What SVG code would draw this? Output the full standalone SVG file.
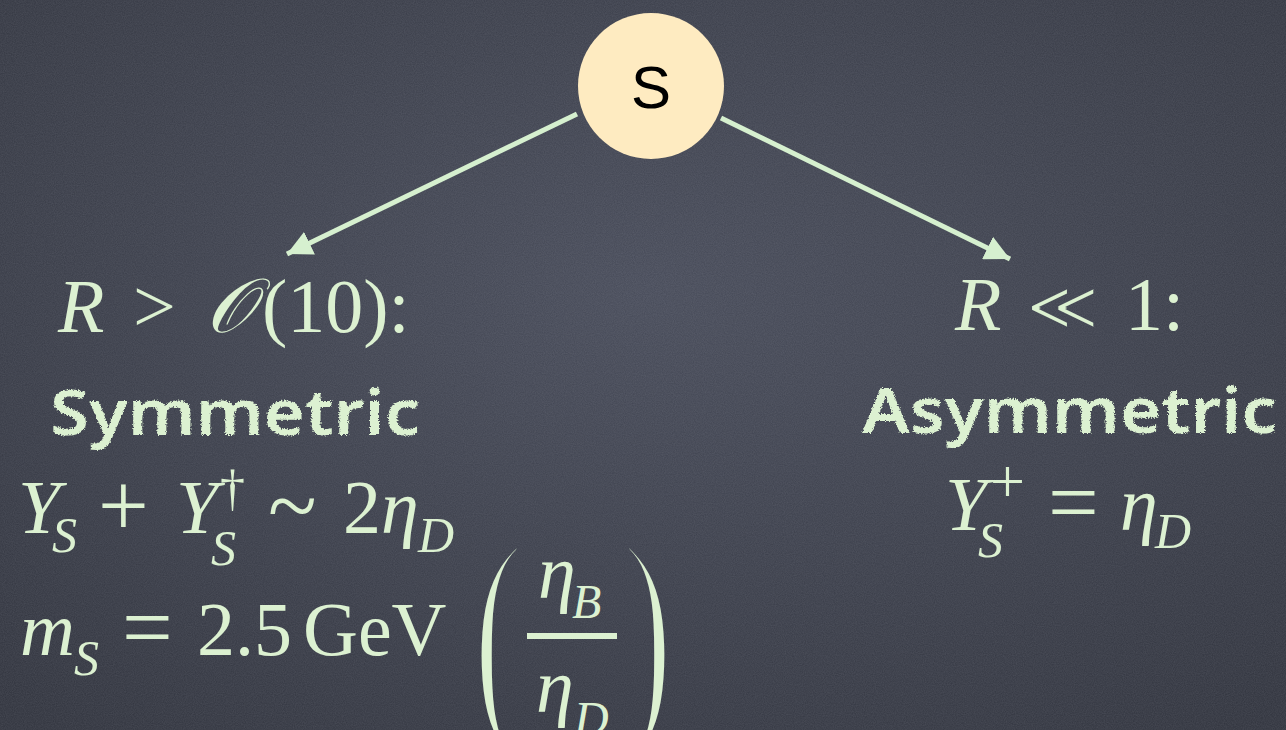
<svg xmlns="http://www.w3.org/2000/svg" width="1286" height="730" viewBox="0 0 1286 730">
<style>
.m{font-family:"Liberation Serif","DejaVu Serif",serif;font-size:76px;fill:#dcf1d1}
.i{font-style:italic}
.s{font-size:50px}
.op{font-size:90px}
.rel{font-family:"DejaVu Sans","DejaVu Serif",serif;font-size:70px;filter:url(#thin1)}
.paren{font-size:250px;filter:url(#thin3)}
.chalk{font-family:"Noto Sans","Lato",sans-serif;font-size:64px;font-weight:600;fill:#dcf1d1;filter:url(#rough)}
.conn{stroke:#d6f0cf;stroke-width:5;fill:none;marker-end:url(#ah)}
</style>
<defs>
<radialGradient id="bg" cx="0.5" cy="0.4" r="0.75">
<stop offset="0" stop-color="#474b59"/>
<stop offset="1" stop-color="#30333d"/>
</radialGradient>
<filter id="noise" x="0" y="0" width="100%" height="100%">
<feTurbulence type="fractalNoise" baseFrequency="0.9" numOctaves="2" seed="3"/>
<feColorMatrix type="matrix" values="0 0 0 0 0.8  0 0 0 0 0.82  0 0 0 0 0.9  0 0 0 0.12 0"/>
</filter>
<filter id="rough" x="-5%" y="-20%" width="110%" height="140%">
<feTurbulence type="fractalNoise" baseFrequency="0.7" numOctaves="2" seed="7" result="n"/>
<feDisplacementMap in="SourceGraphic" in2="n" scale="4" xChannelSelector="R" yChannelSelector="G"/>
</filter>
<filter id="thin3" x="-20%" y="-10%" width="140%" height="120%">
<feMorphology operator="erode" radius="3"/>
</filter>
<filter id="thin1" x="-10%" y="-10%" width="120%" height="120%">
<feMorphology operator="erode" radius="1.3"/>
</filter>
<marker id="ah" viewBox="0 0 25 25" refX="25" refY="12.5" markerWidth="25" markerHeight="25" markerUnits="userSpaceOnUse" orient="auto">
<path d="M0,0 L25,12.5 L0,25 z" fill="#d6f0cf"/>
</marker>
</defs>
<rect width="1286" height="730" fill="url(#bg)"/>
<rect width="1286" height="730" filter="url(#noise)"/>

<g id="connectors">
<line class="conn" x1="577" y1="114" x2="287" y2="254"/>
<line class="conn" x1="721" y1="118" x2="1010" y2="259"/>
</g>

<g id="node-S">
<circle cx="651" cy="86" r="73" fill="#feebc1"/>
<text x="651" y="108" text-anchor="middle" font-family="'Liberation Sans',Arial,sans-serif" font-size="60" fill="#000">S</text>
</g>

<g id="node-symmetric">
<text class="m i" x="58" y="332">R</text>
<text class="m" x="133" y="332">&gt;</text>
<text class="m i" x="206" y="332">𝒪</text>
<text class="m" x="262" y="332">(10):</text>
<text class="chalk" x="50" y="435" textLength="370" lengthAdjust="spacingAndGlyphs">Symmetric</text>
<text class="m i" x="18" y="533">Y</text>
<text class="m i s" x="52" y="552">S</text>
<text class="m op" x="98" y="536">+</text>
<text class="m i" x="176" y="533">Y</text>
<text class="m s" x="220" y="505">†</text>
<text class="m i s" x="211" y="565">S</text>
<text class="m op" x="268" y="536">~</text>
<text class="m" x="343" y="533">2</text>
<text class="m i" x="381" y="533">η</text>
<text class="m i s" x="418" y="552">D</text>
<text class="m i" x="20" y="655">m</text>
<text class="m i s" x="74" y="675">S</text>
<text class="m op" x="122" y="658">=</text>
<text class="m" x="197" y="655">2.5</text>
<text class="m" x="303" y="655">GeV</text>
<text class="m paren" transform="translate(473,716) scale(0.6,1)">(</text>
<text class="m i" x="538" y="598">η</text>
<text class="m i" x="572" y="618" style="font-size:48px">B</text>
<rect x="527" y="633" width="90" height="6" fill="#dcf1d1"/>
<text class="m i" x="536" y="712">η</text>
<text class="m i" x="574" y="735" style="font-size:48px">D</text>
<text class="m paren" transform="translate(623,716) scale(0.6,1)">)</text>
</g>

<g id="node-asymmetric">
<text class="m i" x="955" y="330">R</text>
<text class="m rel" x="1026" y="330">≪</text>
<text class="m" x="1125" y="330">1:</text>
<text class="chalk" x="862" y="433" textLength="415" lengthAdjust="spacingAndGlyphs">Asymmetric</text>
<text class="m i" x="945" y="530">Y</text>
<text class="m" x="990" y="502" style="font-size:62px">+</text>
<text class="m i s" x="978" y="557">S</text>
<text class="m op" x="1048" y="533">=</text>
<text class="m i" x="1120" y="530">η</text>
<text class="m i s" x="1155" y="548">D</text>
</g>
</svg>
